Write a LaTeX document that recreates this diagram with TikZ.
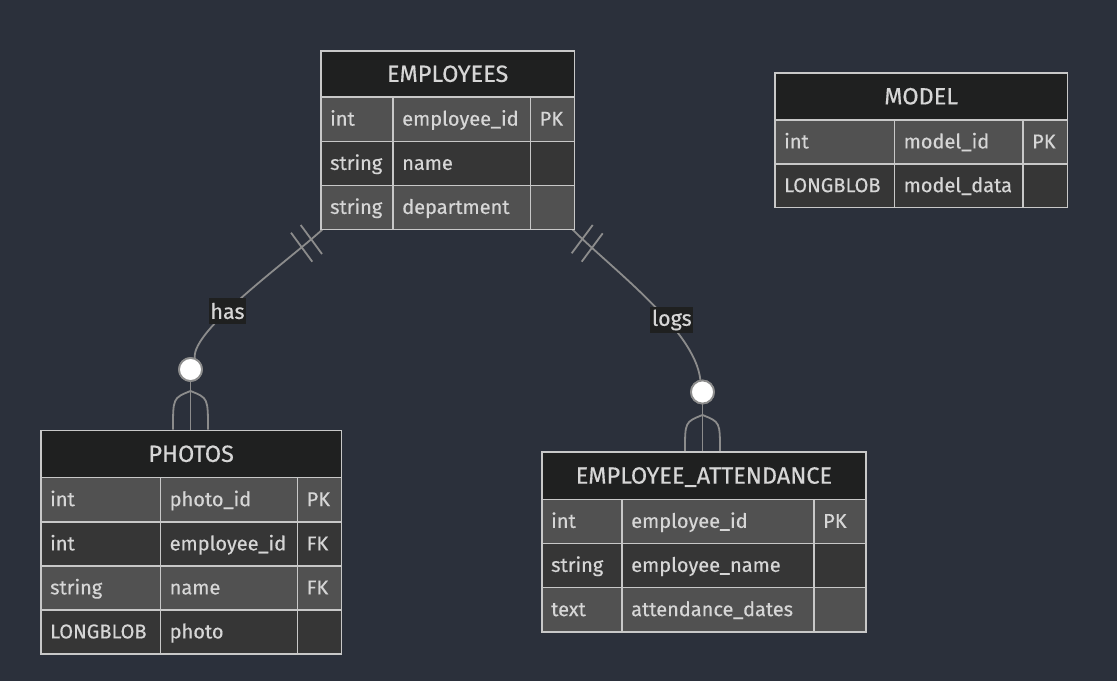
\documentclass[tikz,border=0pt]{standalone}
\usepackage{fontspec}
\setmainfont{Fira Sans}
\newfontfamily\rowfont{Fira Sans}[FakeBold=0.4]
\definecolor{bg}{HTML}{2B303B}
\definecolor{hdr}{HTML}{1F2020}
\definecolor{oddrow}{HTML}{515151}
\definecolor{evenrow}{HTML}{363636}
\definecolor{bord}{HTML}{C8C8C8}
\definecolor{txtc}{HTML}{D6D6D6}
\definecolor{conn}{HTML}{8C8C8C}
\tikzset{
  cellbox/.style={draw=bord, line width=1.8pt, rectangle, inner sep=0pt, anchor=north west},
  celltxt/.style={anchor=base west, inner sep=0pt, text=txtc, font=\rowfont\fontsize{20}{23}\selectfont},
  hdrtxt/.style={anchor=base, inner sep=0pt, text=txtc, font=\rowfont\fontsize{23.5}{27}\selectfont},
  lbl/.style={fill=hdr, text=txtc, inner xsep=1.5pt, inner ysep=0pt, minimum height=26.5pt, font=\rowfont\fontsize{21.5}{24}\selectfont},
  connline/.style={draw=conn, line width=1.8pt},
  zerocircle/.style={circle, draw=conn, line width=1.8pt, fill=white, minimum size=23pt, inner sep=0pt},
}
\newcommand\ecell[7]{%
  \node[cellbox, fill=#6, minimum width={#4pt-#2pt}, minimum height={#5pt-#3pt}] (#1) at (#2,#3) {};
  \node[celltxt] (#1t) at ([xshift=10pt,yshift=-6.5pt]#1.west) {#7};
}
\newcommand\ehdr[6]{%
  \node[cellbox, fill=hdr, minimum width={#4pt-#2pt}, minimum height={#5pt-#3pt}] (#1) at (#2,#3) {};
  \node[hdrtxt] (#1t) at ([yshift=-8pt]#1.center) {#6};
}
\begin{document}
\begin{tikzpicture}[x=1pt, y=-1pt]
\fill[bg] (0,0) rectangle (1117,681);
\useasboundingbox (0,0) rectangle (1117,681);

% ---------- connector anchor points ----------
\coordinate (hasStart) at (323,229);
\coordinate (logsStart) at (572,229);
\node[zerocircle] (pc) at (190.5,369.5) {};
\node[zerocircle] (ac) at (702.5,392) {};
\coordinate (phTop) at (190.5,429.5);
\coordinate (phBr) at (190.5,391);
\coordinate (phFL) at (173,429.5);
\coordinate (phFR) at (208,429.5);
\coordinate (atTop) at (702.5,451);
\coordinate (atBr) at (702.5,415);
\coordinate (atFL) at (685,451);
\coordinate (atFR) at (720,451);
\coordinate (hb1a) at (291,232.7);
\coordinate (hb1b) at (312.3,261.7);
\coordinate (hb2a) at (300.7,225);
\coordinate (hb2b) at (322,254);
\coordinate (lb1a) at (592.7,225);
\coordinate (lb1b) at (571.7,253.3);
\coordinate (lb2a) at (602.7,233.3);
\coordinate (lb2b) at (581.7,261.7);

% ---------- connectors ----------
\draw[connline] (hasStart) .. controls (283,265) and (192,330) .. (pc.70);
\draw[connline] (hb1a) -- (hb1b);
\draw[connline] (hb2a) -- (hb2b);
\draw[connline] (pc.south) -- (phTop);
\draw[connline] (phBr) .. controls (173,398) .. (phFL);
\draw[connline] (phBr) .. controls (208,398) .. (phFR);

\draw[connline] (logsStart) .. controls (612,269) and (695,330) .. (ac.100);
\draw[connline] (lb1a) -- (lb1b);
\draw[connline] (lb2a) -- (lb2b);
\draw[connline] (ac.south) -- (atTop);
\draw[connline] (atBr) .. controls (685,422) .. (atFL);
\draw[connline] (atBr) .. controls (720,422) .. (atFR);

\node[zerocircle] at (pc.center) {};
\node[zerocircle] at (ac.center) {};

\node[lbl] (hasl) at (227.5,311) {has};
\node[lbl] (logsl) at (671.8,320) {logs};

% ---------- EMPLOYEES ----------
\ehdr{emp}{320}{50}{573.5}{96}{EMPLOYEES}
\ecell{e11}{320}{96}{392}{140.5}{oddrow}{int}
\ecell{e12}{392}{96}{529.5}{140.5}{oddrow}{employee\_id}
\ecell{e13}{529.5}{96}{573.5}{140.5}{oddrow}{PK}
\ecell{e21}{320}{140.5}{392}{184.5}{evenrow}{string}
\ecell{e22}{392}{140.5}{529.5}{184.5}{evenrow}{name}
\ecell{e23}{529.5}{140.5}{573.5}{184.5}{evenrow}{}
\ecell{e31}{320}{184.5}{392}{228.5}{oddrow}{string}
\ecell{e32}{392}{184.5}{529.5}{228.5}{oddrow}{department}
\ecell{e33}{529.5}{184.5}{573.5}{228.5}{oddrow}{}

% ---------- MODEL ----------
\ehdr{mod}{774}{72}{1066.5}{119}{MODEL}
\ecell{m11}{774}{119}{893.5}{163}{oddrow}{int}
\ecell{m12}{893.5}{119}{1022}{163}{oddrow}{model\_id}
\ecell{m13}{1022}{119}{1066.5}{163}{oddrow}{PK}
\ecell{m21}{774}{163}{893.5}{206.5}{evenrow}{LONGBLOB}
\ecell{m22}{893.5}{163}{1022}{206.5}{evenrow}{model\_data}
\ecell{m23}{1022}{163}{1066.5}{206.5}{evenrow}{}

% ---------- PHOTOS ----------
\ehdr{pho}{40}{429.5}{340.5}{476.5}{PHOTOS}
\ecell{p11}{40}{476.5}{159.5}{521}{oddrow}{int}
\ecell{p12}{159.5}{476.5}{296.5}{521}{oddrow}{photo\_id}
\ecell{p13}{296.5}{476.5}{340.5}{521}{oddrow}{PK}
\ecell{p21}{40}{521}{159.5}{565}{evenrow}{int}
\ecell{p22}{159.5}{521}{296.5}{565}{evenrow}{employee\_id}
\ecell{p23}{296.5}{521}{340.5}{565}{evenrow}{FK}
\ecell{p31}{40}{565}{159.5}{609}{oddrow}{string}
\ecell{p32}{159.5}{565}{296.5}{609}{oddrow}{name}
\ecell{p33}{296.5}{565}{340.5}{609}{oddrow}{FK}
\ecell{p41}{40}{609}{159.5}{653}{evenrow}{LONGBLOB}
\ecell{p42}{159.5}{609}{296.5}{653}{evenrow}{photo}
\ecell{p43}{296.5}{609}{340.5}{653}{evenrow}{}

% ---------- EMPLOYEE_ATTENDANCE ----------
\ehdr{att}{541}{451}{865}{498.5}{EMPLOYEE\_ATTENDANCE}
\ecell{a11}{541}{498.5}{621}{542.5}{oddrow}{int}
\ecell{a12}{621}{498.5}{813}{542.5}{oddrow}{employee\_id}
\ecell{a13}{813}{498.5}{865}{542.5}{oddrow}{PK}
\ecell{a21}{541}{542.5}{621}{586.5}{evenrow}{string}
\ecell{a22}{621}{542.5}{813}{586.5}{evenrow}{employee\_name}
\ecell{a23}{813}{542.5}{865}{586.5}{evenrow}{}
\ecell{a31}{541}{586.5}{621}{631}{oddrow}{text}
\ecell{a32}{621}{586.5}{813}{631}{oddrow}{attendance\_dates}
\ecell{a33}{813}{586.5}{865}{631}{oddrow}{}
\end{tikzpicture}
\end{document}
